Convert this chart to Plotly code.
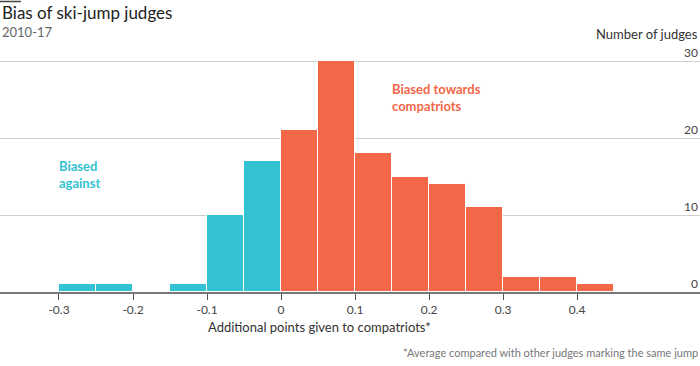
import plotly.graph_objects as go

bin_left = [-0.30, -0.25, -0.15, -0.10, -0.05, 0.00, 0.05, 0.10, 0.15, 0.20, 0.25, 0.30, 0.35, 0.40]
counts = [1, 1, 1, 10, 17, 21, 30, 18, 15, 14, 11, 2, 2, 1]
bin_width = 0.05
x_ticks = [-0.3, -0.2, -0.1, 0, 0.1, 0.2, 0.3, 0.4]
x_tick_labels = ["-0.3", "-0.2", "-0.1", "0", "0.1", "0.2", "0.3", "0.4"]
y_ticks = [0, 10, 20, 30]

TEAL = "#33C2D1"
ORANGE = "#F26748"
FONT = "Lato"

W, H = 700, 366
MT, MB = 50, 74
plot_h = H - MT - MB

centers = [b + bin_width / 2 for b in bin_left]
colors = [TEAL if b < 0 else ORANGE for b in bin_left]

fig = go.Figure()
fig.add_trace(go.Bar(
    x=centers, y=counts, width=[bin_width] * len(centers),
    marker=dict(color=colors, line=dict(color="white", width=1)),
    hoverinfo="skip", showlegend=False,
))


def py(pix):
    """paper y coordinate for a pixel row measured from the top of the image"""
    return 1 - (pix - MT) / plot_h


annotations = [
    dict(text="Bias of ski-jump judges", x=0, y=py(13), xanchor="left",
         font=dict(size=17, color="#222")),
    dict(text="2010-17", x=0, y=py(32), xanchor="left",
         font=dict(size=13, color="#666")),
    dict(text="Number of judges", x=1, y=py(34), xanchor="right",
         font=dict(size=13, color="#333")),
    dict(text="*Average compared with other judges marking the same jump", x=1, y=py(352),
         xanchor="right", font=dict(size=11, color="#777")),
    dict(text="Additional points given to compatriots*", x=319 / W, y=py(327), xanchor="center",
         font=dict(size=13, color="#333")),
]
for a in annotations:
    a.update(xref="paper", yref="paper", yanchor="middle", showarrow=False)

for v in y_ticks:
    annotations.append(dict(text=str(v), xref="paper", yref="y", x=1, y=v, xanchor="right",
                            yanchor="bottom", showarrow=False, yshift=-1,
                            font=dict(size=12, color="#444")))

annotations += [
    dict(text="<b>Biased<br>against</b>", xref="x", yref="y", x=-0.303, y=12.9,
         xanchor="left", yanchor="bottom", showarrow=False,
         font=dict(size=13, color=TEAL), align="left"),
    dict(text="<b>Biased towards<br>compatriots</b>", xref="x", yref="y", x=0.147, y=22.9,
         xanchor="left", yanchor="bottom", showarrow=False,
         font=dict(size=13, color=ORANGE), align="left"),
]

fig.update_layout(
    width=W, height=H,
    margin=dict(l=0, r=0, t=MT, b=MB, autoexpand=False),
    paper_bgcolor="white", plot_bgcolor="white",
    font=dict(family=FONT, color="#333"),
    bargap=0,
    xaxis=dict(
        range=[-0.3797, 0.566], automargin=False,
        tickvals=x_ticks, ticktext=x_tick_labels,
        ticks="outside", ticklen=6, tickcolor="#555", tickwidth=1,
        tickfont=dict(size=12, color="#444"),
        showgrid=False, zeroline=False,
        showline=True, linecolor="#777", linewidth=2,
    ),
    yaxis=dict(
        range=[0, 31.43], side="right", automargin=False,
        tickvals=y_ticks, showticklabels=False,
        showgrid=True, gridcolor="#d0d0d0", gridwidth=1,
        zeroline=False, showline=False, ticks="",
    ),
    shapes=[dict(type="line", xref="paper", yref="paper", x0=0, x1=21 / W, y0=py(1.5), y1=py(1.5),
                 line=dict(color="#444", width=1.5))],
    annotations=annotations,
)

fig.write_html("out.html", config={"displayModeBar": False},
               post_script="document.body.style.margin='0';document.body.style.overflow='hidden';")
